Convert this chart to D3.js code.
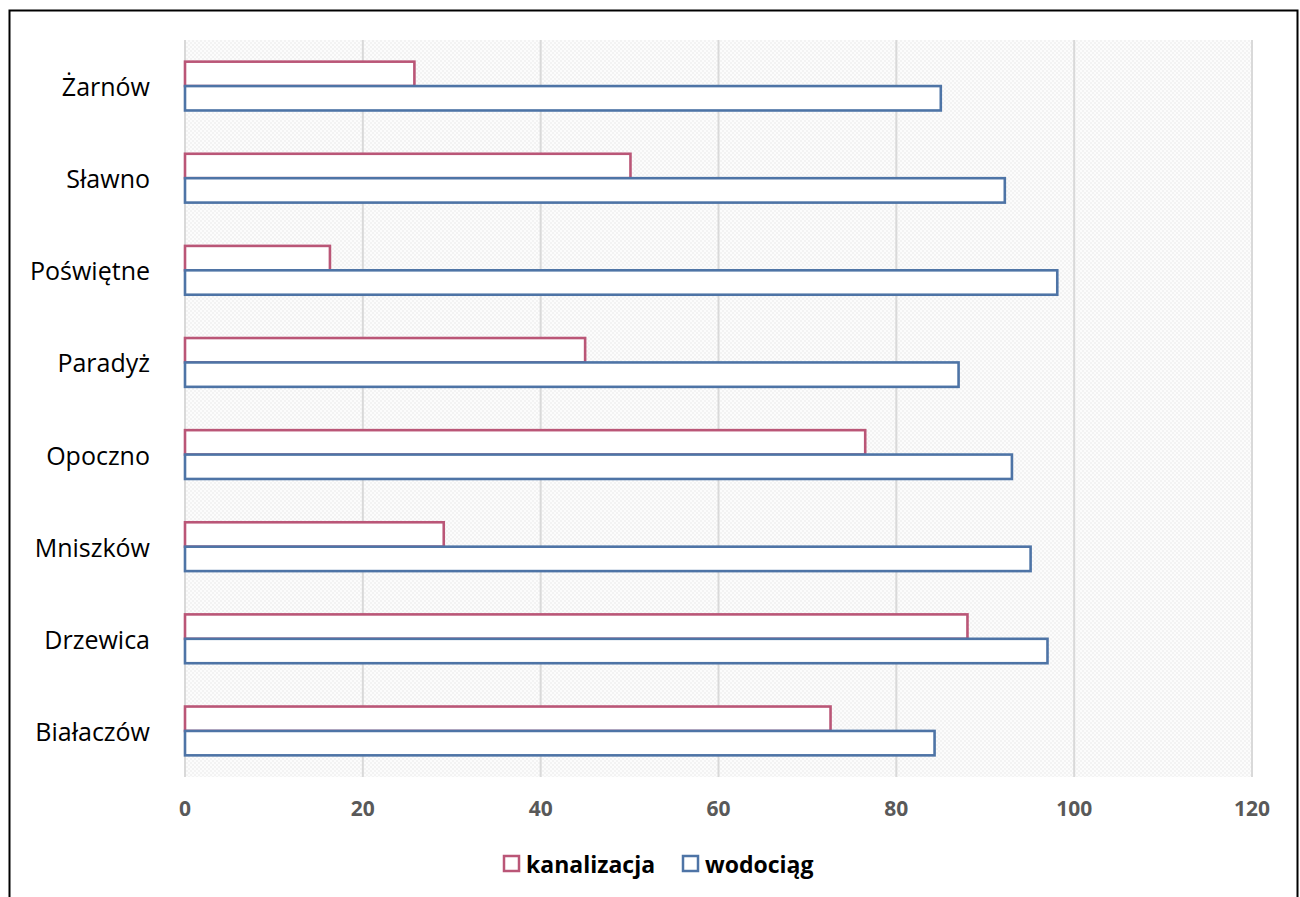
<!DOCTYPE html>
<html>
<head>
<meta charset="utf-8">
<script src="https://cdnjs.cloudflare.com/ajax/libs/d3/7.8.5/d3.min.js"></script>
<style>
  body { margin: 0; background: #fff; }
  #chart { width: 1300px; height: 897px; }
</style>
</head>
<body>
<div id="chart"></div>
<script>
// data (top row first, as shown)
let places = ["Żarnów", "Sławno", "Poświętne", "Paradyż", "Opoczno", "Mniszków", "Drzewica", "Białaczów"];
let kanalizacja = [25.8, 50.1, 16.3, 45.0, 76.5, 29.1, 88.0, 72.6];
let wodociag = [85.0, 92.2, 98.1, 87.0, 93.0, 95.1, 97.0, 84.3];
let seriesNames = ["kanalizacja", "wodociąg"];
let xTicks = [0, 20, 40, 60, 80, 100, 120];

let colors = { kanalizacja: "#BA5677", "wodociąg": "#4E74A6" };

let width = 1300, height = 897;
let plot = { left: 185, right: 1252, top: 40, bottom: 777 };

let svg = d3.select("#chart").append("svg")
  .attr("width", width)
  .attr("height", height);

// outer frame
svg.append("rect")
  .attr("x", 9.5).attr("y", 10.5)
  .attr("width", 1288).attr("height", 900)
  .attr("fill", "#fff")
  .attr("stroke", "#000")
  .attr("stroke-width", 2);

// fine dotted plot background
let defs = svg.append("defs");
let pat = defs.append("pattern")
  .attr("id", "dots")
  .attr("width", 4).attr("height", 4)
  .attr("patternUnits", "userSpaceOnUse");
pat.append("rect").attr("width", 4).attr("height", 4).attr("fill", "#fcfcfc");
pat.append("rect").attr("width", 2).attr("height", 2).attr("fill", "#f3f3f3");
pat.append("rect").attr("x", 2).attr("y", 2).attr("width", 2).attr("height", 2).attr("fill", "#f3f3f3");

let x = d3.scaleLinear()
  .domain([0, 120])
  .range([plot.left, plot.right]);

let y = d3.scaleBand()
  .domain(places)
  .range([plot.top, plot.bottom])
  .paddingInner(0.47)
  .paddingOuter(0.235);

let ySub = d3.scaleBand()
  .domain(seriesNames)
  .range([0, y.bandwidth()]);

svg.append("rect")
  .attr("x", plot.left).attr("y", plot.top)
  .attr("width", plot.right - plot.left)
  .attr("height", plot.bottom - plot.top)
  .attr("fill", "url(#dots)");

// vertical gridlines
svg.append("g")
  .selectAll("line")
  .data(xTicks)
  .join("line")
  .attr("x1", d => x(d)).attr("x2", d => x(d))
  .attr("y1", plot.top).attr("y2", plot.bottom)
  .attr("stroke", "#d9d9d9")
  .attr("stroke-width", 2);

// bars
let rows = places.map((p, i) => ({ place: p, values: [
  { key: "kanalizacja", value: kanalizacja[i] },
  { key: "wodociąg", value: wodociag[i] }
]}));

let groups = svg.append("g")
  .selectAll("g")
  .data(rows)
  .join("g")
  .attr("transform", d => "translate(0," + y(d.place) + ")");

groups.selectAll("rect")
  .data(d => d.values)
  .join("rect")
  .attr("x", x(0))
  .attr("y", d => ySub(d.key))
  .attr("width", d => x(d.value) - x(0))
  .attr("height", ySub.bandwidth())
  .attr("fill", "#fff")
  .attr("stroke", d => colors[d.key])
  .attr("stroke-width", 2.6);

// category labels
svg.append("g")
  .selectAll("text")
  .data(places)
  .join("text")
  .attr("x", 150)
  .attr("y", d => y(d) + y.bandwidth() / 2)
  .attr("text-anchor", "end")
  .attr("dominant-baseline", "central")
  .style("font-family", "'Open Sans', sans-serif")
  .style("font-size", "25px")
  .attr("fill", "#000")
  .text(d => d);

// x axis tick labels
svg.append("g")
  .selectAll("text")
  .data(xTicks)
  .join("text")
  .attr("x", d => x(d))
  .attr("y", 808)
  .attr("text-anchor", "middle")
  .attr("dominant-baseline", "central")
  .style("font-family", "'Open Sans', sans-serif")
  .style("font-size", "21px")
  .style("font-weight", "bold")
  .attr("fill", "#595959")
  .text(d => d);

// legend
let legendX = [503, 682];
let legend = svg.append("g")
  .selectAll("g")
  .data(seriesNames)
  .join("g")
  .attr("transform", (d, i) => "translate(" + legendX[i] + ",855)");

legend.append("rect")
  .attr("x", 1).attr("y", 1)
  .attr("width", 15).attr("height", 15)
  .attr("fill", "#fff")
  .attr("stroke", d => colors[d])
  .attr("stroke-width", 2.5);

legend.append("text")
  .attr("x", 23)
  .attr("y", 9)
  .attr("dominant-baseline", "central")
  .style("font-family", "'Open Sans', sans-serif")
  .style("font-size", "23px")
  .style("font-weight", "bold")
  .attr("fill", "#000")
  .text(d => d);
</script>
</body>
</html>
